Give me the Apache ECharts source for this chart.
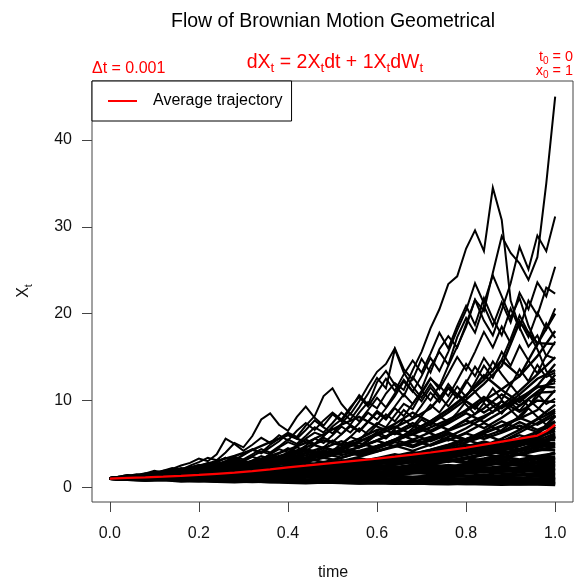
<!DOCTYPE html>
<html><head><meta charset="utf-8">
<script src="https://cdn.jsdelivr.net/npm/echarts@6/dist/echarts.min.js"></script>
<style>html,body{margin:0;padding:0;background:#fff}#c{width:580px;height:584px}</style>
</head><body><div id="c"></div>
<script>
// ---- time grids ----
const timesFine = [0,0.02,0.04,0.06,0.08,0.1,0.12,0.14,0.16,0.18,0.2,0.22,0.24,0.26,0.28,0.3,0.32,0.34,0.36,0.38,0.4,0.42,0.44,0.46,0.48,0.5,0.52,0.54,0.56,0.58,0.6,0.62,0.64,0.66,0.68,0.7,0.72,0.74,0.76,0.78,0.8,0.82,0.84,0.86,0.88,0.9,0.92,0.94,0.96,0.98,1];
const timesCoarse = [0,0.04,0.08,0.12,0.16,0.2,0.24,0.28,0.32,0.36,0.4,0.44,0.48,0.52,0.56,0.6,0.64,0.68,0.72,0.76,0.8,0.84,0.88,0.92,0.96,1];

// ---- high trajectories (fine grid) ----
const hi1 = [1,1.1,1.3,1.2,1.4,1.6,1.5,1.8,2.0,1.9,2.3,2.6,2.4,2.9,3.3,3.0,3.6,4.1,3.8,4.6,5.2,4.8,5.6,6.3,5.9,7.0,7.8,7.2,8.6,9.8,9.1,10.8,12.0,11.2,13.5,15.6,18.3,20.5,23.4,24.3,27.5,29.6,27.2,34.5,30.8,21.5,18.4,16.2,17.5,15.1,16.8];
const hi2 = [1,0.9,1.0,1.1,0.95,1.1,1.25,1.15,1.3,1.5,1.4,1.6,1.8,1.7,2.0,2.3,2.1,2.5,2.9,2.7,3.2,3.6,3.3,4.0,4.5,4.2,5.0,5.8,5.4,6.5,7.4,6.9,8.3,9.6,9.0,10.8,12.5,11.6,14.0,16.2,18.5,21.6,20.3,24.7,28.9,27.0,25.8,23.9,26.5,35.0,45.0];
const hi3 = [1,1.15,1.3,1.5,1.4,1.7,1.9,2.0,1.8,2.2,2.6,2.4,2.9,3.4,3.1,3.8,4.4,4.0,4.9,5.6,6.3,5.8,7.1,8.2,10.5,11.4,9.6,8.4,9.9,11.7,13.3,14.2,16.0,13.6,12.4,14.8,13.2,15.9,17.4,16.1,18.8,21.6,19.2,17.5,20.4,23.5,27.7,25.1,29.0,27.2,31.2];
const hi4 = [1,1.2,1.1,1.4,1.6,1.5,1.9,2.2,2.0,2.5,2.9,3.4,3.1,4.0,5.1,4.6,5.9,7.8,8.5,7.2,6.5,8.1,9.3,8.0,7.1,8.4,7.6,9.0,10.6,9.5,12.1,13.4,11.8,10.5,12.7,11.3,13.9,15.6,14.1,17.3,19.5,17.8,20.9,18.6,21.3,19.0,22.4,20.5,23.6,22.0,25.4];
const hi5 = [1,1.2,1.4,1.3,1.6,1.9,1.7,2.1,2.5,2.8,3.3,3.0,3.8,5.6,5.0,4.2,4.9,5.7,5.1,6.0,5.4,6.5,7.4,6.6,7.7,8.6,7.8,9.2,10.4,9.3,10.9,12.5,11.1,13.0,14.6,13.2,15.4,17.8,16.0,18.6,20.9,18.7,21.8,19.4,17.5,20.6,18.3,21.5,19.8,23.0,22.3];
const hi6 = [1,1.1,0.95,1.15,1.35,1.2,1.45,1.7,1.55,1.85,2.2,2.0,2.4,2.8,2.5,3.0,3.5,3.2,3.8,4.4,4.0,4.8,5.5,5.0,5.9,6.8,6.1,7.2,6.5,7.6,8.8,8.0,9.3,10.7,9.6,11.0,12.6,11.3,13.1,15.0,13.5,15.6,17.9,16.1,18.5,16.6,19.2,17.3,20.1,18.2,20.6];
const hi7 = [1,1.1,1.25,1.1,1.3,1.5,1.35,1.6,1.85,1.7,2.0,2.35,2.15,2.5,2.9,2.6,3.1,3.6,3.3,3.9,4.5,4.1,4.8,5.6,5.1,6.0,7.0,6.3,7.4,8.6,7.8,9.1,10.5,12.2,11.0,12.8,14.9,13.4,15.6,18.1,20.4,23.5,21.2,24.4,22.0,19.5,21.8,18.6,16.4,18.9,17.2];
const hi8 = [1,0.9,1.05,1.2,1.1,1.3,1.5,1.4,1.65,1.9,1.75,2.05,2.4,2.2,2.6,3.0,2.75,3.2,3.7,3.4,4.0,4.6,4.2,4.9,5.7,5.2,6.1,7.0,6.4,7.5,8.6,7.8,9.1,8.2,9.6,11.1,10.0,11.7,10.5,12.3,14.2,12.8,14.9,13.4,15.6,14.0,16.3,14.6,13.1,15.2,14.8];
const hi9 = [1,1.15,1.0,1.2,1.4,1.25,1.5,1.35,1.6,1.85,1.65,1.95,2.3,2.1,2.5,2.25,2.7,3.2,2.9,3.4,4.0,3.6,4.3,3.9,4.6,5.4,4.9,5.8,6.8,6.1,7.2,8.4,7.6,8.9,8.0,9.4,10.9,9.8,11.4,10.3,12.0,13.9,12.5,14.5,13.0,11.7,13.6,12.2,14.1,12.7,13.2];
const hi10 = [1,1.1,1.25,1.4,1.3,1.55,1.8,1.65,1.95,2.3,2.1,2.5,2.9,3.4,3.1,3.7,4.3,3.9,4.6,5.3,6.2,5.6,6.6,7.7,6.9,6.2,7.3,8.5,7.6,8.9,10.3,9.2,10.8,12.4,11.1,9.9,11.5,10.2,11.9,10.6,12.3,11.0,9.8,11.4,10.1,11.8,10.5,9.3,10.8,9.6,10.2];
const hi11 = [1,0.95,1.1,1.0,1.15,1.3,1.2,1.4,1.3,1.5,1.75,1.6,1.85,2.15,1.95,2.3,2.1,2.45,2.85,2.6,3.0,3.5,3.2,3.7,4.3,3.9,4.5,5.2,4.7,5.5,6.4,5.8,6.7,7.8,7.0,8.2,9.5,8.6,10.0,11.6,10.4,12.1,14.0,12.6,14.7,17.1,19.8,17.8,15.9,13.4,12.1];
const hi12 = [1,1.1,1.0,1.2,1.1,1.3,1.5,1.4,1.6,1.45,1.7,1.95,1.8,2.1,1.9,2.2,2.55,2.35,2.7,3.1,2.85,3.3,3.0,3.5,4.0,3.7,4.3,5.0,4.6,5.3,6.1,5.6,6.5,5.9,6.8,7.8,7.1,8.2,7.5,8.6,9.9,9.0,10.3,9.4,8.5,9.7,8.8,10.1,9.2,8.4,9.0];
const hi13 = [1,1.2,1.4,1.25,1.5,1.75,1.6,1.9,2.2,2.0,2.4,2.8,2.5,3.0,3.5,3.2,3.8,4.4,4.0,4.7,5.5,5.0,5.9,6.9,6.3,7.4,8.6,7.8,9.2,10.8,12.6,11.4,15.9,13.2,11.6,10.3,11.9,10.5,9.3,10.7,9.5,8.4,9.7,8.6,10.0,8.9,7.9,9.1,8.1,7.2,8.3];

// ---- middle trajectories (coarse grid) ----
const mid1 = [1,1.2,1.4,1.65,1.45,1.7,2.0,2.35,2.75,2.4,2.8,3.3,3.9,3.4,4.0,4.7,5.5,4.8,5.6,6.6,7.7,6.8,8.0,9.4,10.9,11.0];
const mid2 = [1,1.15,1.35,1.6,1.9,2.2,1.95,2.3,2.7,3.2,3.75,4.4,3.85,4.5,5.3,6.2,7.3,8.6,7.5,6.6,7.8,9.1,10.7,9.4,11.0,12.5];
const mid3 = [1,1.2,1.45,1.7,2.0,2.4,2.1,2.5,3.0,3.6,4.3,5.1,6.1,7.2,8.1,7.0,6.1,7.1,6.2,5.4,6.3,7.4,6.4,7.5,6.6,7.5];
const mid4 = [1,1.1,1.3,1.5,1.35,1.6,1.9,2.2,2.6,3.0,2.65,3.1,3.65,4.3,3.8,4.45,5.2,4.6,5.4,6.3,5.5,6.5,7.6,6.7,7.9,9.5];
const mid5 = [1,1.15,1.35,1.55,1.8,2.1,2.45,2.85,2.5,2.9,3.4,3.95,4.6,4.0,4.65,5.4,6.3,5.5,4.8,5.6,4.9,4.3,5.0,4.4,5.1,5.0];
const mid6 = [1,1.1,1.3,1.5,1.75,1.55,1.8,2.1,2.45,2.15,2.5,2.9,3.4,3.0,3.5,4.1,4.8,4.2,4.9,5.8,6.8,8.0,9.4,11.1,13.0,15.0];
const mid7 = [1,1.15,1.05,1.25,1.45,1.7,2.0,1.75,2.05,2.4,2.8,3.3,2.9,3.4,4.0,4.7,5.5,6.5,7.6,9.0,10.6,12.4,14.6,12.8,15.1,18.0];
const mid8 = [1,1.2,1.4,1.25,1.45,1.7,2.0,2.35,2.75,3.2,2.8,3.3,3.9,4.6,4.0,4.7,5.5,6.5,7.6,8.9,10.5,12.9,11.2,9.8,11.6,11.5];
const mid9 = [1,1.1,1.0,1.15,1.35,1.2,1.4,1.65,1.45,1.7,2.0,2.35,2.05,2.4,2.8,3.3,2.9,3.4,4.0,4.7,5.5,4.8,5.6,6.6,7.8,8.8];
const mid10 = [1,1.15,1.35,1.6,1.85,2.2,2.55,3.0,2.6,3.05,3.6,4.2,3.7,4.3,5.1,4.5,5.3,6.2,7.3,8.6,10.1,11.9,14.0,19.0,16.6,16.5];
const mid11 = [1,1.12,1.28,1.14,1.3,1.5,1.72,1.52,1.75,2.0,2.3,2.02,2.32,2.66,3.06,2.7,3.1,3.56,4.1,3.6,4.14,4.76,5.48,4.82,5.54,6.8];
const mid12 = [1,1.2,1.45,1.75,2.1,2.5,3.0,3.6,4.3,5.2,6.0,5.2,4.5,5.3,4.6,5.4,6.3,7.4,6.5,7.6,8.9,10.4,9.1,10.7,12.5,13.5];
const mid13 = [1,1.12,1.26,1.42,1.6,1.8,2.03,2.29,2.58,2.9,3.27,3.69,4.16,3.7,4.2,4.75,5.4,6.1,6.9,7.8,8.8,10.0,11.3,12.8,16.5,20.0];
const mid14 = [1,1.15,1.3,1.5,1.72,1.98,2.28,2.62,3.0,3.45,3.0,3.45,3.97,4.56,5.25,6.0,6.9,7.9,9.1,11.5,9.9,8.6,9.9,8.7,10.0,9.8];
const mid15 = [1,1.1,1.22,1.35,1.2,1.34,1.5,1.68,1.5,1.68,1.88,2.1,2.36,2.1,2.36,2.64,2.96,3.3,2.96,3.32,3.72,4.16,4.66,4.16,4.66,5.8];
const mid16 = [1,1.1,1.22,1.36,1.52,1.7,1.9,2.12,2.36,2.64,2.95,3.3,3.7,4.1,3.7,4.15,4.65,5.2,5.8,6.5,7.3,8.2,9.2,10.3,11.5,12.0];
const mid17 = [1,1.14,1.3,1.48,1.68,1.9,2.16,2.46,2.8,2.5,2.84,3.22,3.66,4.16,3.7,4.2,4.76,5.4,4.82,5.48,6.2,5.56,6.3,7.1,6.36,7.2];
const mid18 = [1,1.08,1.0,1.1,1.2,1.32,1.2,1.34,1.5,1.68,1.88,1.7,1.92,2.16,2.44,2.76,3.12,2.8,3.18,3.6,4.08,4.62,5.24,6.3,7.4,8.6];
const mid19 = [1,1.16,1.34,1.2,1.4,1.62,1.88,2.18,2.5,2.9,3.36,3.9,3.4,3.96,4.6,5.34,4.7,5.46,6.34,7.36,8.54,7.5,8.7,10.1,11.7,14.2];
const mid20 = [1,1.1,1.0,1.12,1.26,1.42,1.28,1.44,1.62,1.82,2.06,2.32,2.08,2.36,2.66,3.0,3.4,3.84,4.34,4.9,5.56,6.3,7.1,8.0,7.2,8.3];
const mid21 = [1,1.18,1.4,1.65,1.95,2.3,2.72,3.2,2.8,3.3,3.9,4.6,5.4,4.8,5.6,6.6,7.0,6.1,5.3,6.1,5.3,6.1,5.3,6.0,5.4,6.2];
const mid22 = [1,1.12,1.25,1.4,1.26,1.42,1.6,1.8,1.6,1.8,2.04,2.3,2.6,2.34,2.64,2.98,3.36,3.8,4.3,4.86,5.5,6.2,7.0,7.9,8.9,11.2];
const mid23 = [1,1.1,1.22,1.1,1.23,1.38,1.55,1.4,1.57,1.76,1.98,2.22,2.5,2.24,2.52,2.84,3.2,3.6,4.06,4.58,5.16,5.82,6.56,8.2,10.4,13.0];

// ---- low trajectories (coarse grid) ----
const lo1 = [1,0.9,0.8,0.85,0.7,0.75,0.65,0.6,0.7,0.6,0.55,0.5,0.58,0.52,0.45,0.5,0.42,0.48,0.4,0.36,0.42,0.37,0.33,0.38,0.34,0.3];
const lo2 = [1,1.1,0.95,0.85,0.9,0.8,0.7,0.78,0.68,0.62,0.7,0.64,0.56,0.6,0.52,0.58,0.5,0.45,0.52,0.47,0.55,0.49,0.44,0.5,0.46,0.5];
const lo3 = [1,0.9,1.0,1.1,0.95,0.85,0.9,0.8,0.88,0.78,0.72,0.8,0.7,0.76,0.66,0.72,0.62,0.68,0.6,0.66,0.58,0.64,0.7,0.62,0.68,0.7];
const lo4 = [1,1.1,1.2,1.05,1.15,1.0,0.9,1.0,1.1,0.95,1.05,0.9,0.82,0.92,0.84,0.78,0.86,0.8,0.72,0.8,0.9,0.82,0.76,0.84,0.94,0.9];
const lo5 = [1,1.15,1.05,1.2,1.35,1.2,1.1,1.25,1.1,1.0,1.12,1.25,1.1,0.98,1.1,1.0,0.9,1.02,1.15,1.04,0.94,1.05,1.18,1.06,0.98,1.1];
const lo6 = [1,0.9,1.0,0.9,1.0,1.12,1.0,1.1,1.24,1.1,1.2,1.35,1.2,1.08,1.2,1.34,1.2,1.1,1.24,1.38,1.24,1.12,1.25,1.4,1.26,1.3];
const lo7 = [1,1.1,1.25,1.4,1.25,1.4,1.55,1.4,1.25,1.4,1.3,1.45,1.6,1.45,1.3,1.45,1.6,1.78,1.6,1.45,1.6,1.75,1.58,1.44,1.6,1.6];
const lo8 = [1,1.1,1.0,1.1,1.22,1.1,1.25,1.38,1.25,1.4,1.55,1.4,1.55,1.72,1.55,1.7,1.9,1.7,1.55,1.72,1.9,2.1,1.9,1.75,1.95,1.9];
const lo9 = [1,1.1,1.2,1.35,1.5,1.35,1.5,1.65,1.85,1.65,1.5,1.68,1.85,2.05,1.85,1.65,1.85,2.05,2.3,2.05,1.85,2.05,2.3,2.05,2.25,2.2];
const lo10 = [1,0.9,1.0,1.1,1.0,1.12,1.25,1.12,1.26,1.4,1.56,1.4,1.56,1.74,1.94,1.74,1.94,2.16,1.94,2.16,2.4,2.16,2.4,2.68,2.42,2.5];
const lo11 = [1,1.15,1.3,1.18,1.34,1.5,1.7,1.52,1.72,1.94,1.74,1.96,2.2,1.98,1.78,2.0,2.24,2.0,2.26,2.52,2.26,2.54,2.84,2.56,2.86,2.8];
const lo12 = [1,1.1,0.98,1.1,1.24,1.1,1.25,1.4,1.58,1.42,1.6,1.8,2.02,1.82,2.04,2.3,2.06,2.32,2.6,2.34,2.64,2.96,2.66,2.98,3.3,3.1];
const lo13 = [1,1.1,1.25,1.4,1.58,1.42,1.6,1.8,2.02,2.28,2.04,1.84,2.06,2.32,2.6,2.34,2.64,2.96,2.66,3.0,3.36,3.02,3.4,3.8,3.42,3.5];
const lo14 = [1,0.92,1.04,1.16,1.04,1.18,1.32,1.48,1.34,1.5,1.7,1.9,1.72,1.94,2.18,2.44,2.2,2.46,2.76,3.1,2.8,3.14,3.52,3.18,3.58,3.9];
const lo15 = [1,1.12,1.26,1.14,1.28,1.44,1.62,1.82,1.64,1.84,2.06,2.32,2.6,2.34,2.64,2.96,2.66,3.0,3.36,3.02,3.4,3.82,3.44,3.86,4.34,4.3];
const lo16 = [1,1.1,1.0,1.12,1.26,1.42,1.28,1.44,1.62,1.82,2.04,1.84,2.06,2.32,2.6,2.92,2.62,2.94,3.3,2.96,3.32,3.74,4.2,3.78,4.24,4.7];
const lo17 = [1,1.14,1.3,1.48,1.34,1.52,1.72,1.96,1.76,2.0,2.26,2.04,2.3,2.6,2.94,2.64,2.98,3.36,3.02,3.4,3.84,4.32,3.88,4.38,4.94,5.1];
const lo18 = [1,1.1,1.22,1.1,1.24,1.38,1.56,1.4,1.58,1.78,2.0,2.26,2.04,2.3,2.58,2.9,3.26,2.94,3.3,3.72,4.18,3.76,4.24,4.76,5.36,5.5];
const lo19 = [1,1.16,1.04,1.18,1.34,1.52,1.72,1.54,1.74,1.98,2.24,2.52,2.26,2.56,2.9,3.26,2.94,3.32,3.74,4.22,3.8,4.28,4.82,5.44,5.0,6.0];
const lo20 = [1,1.12,1.26,1.42,1.6,1.44,1.62,1.84,2.08,1.86,2.1,2.38,2.68,2.4,2.72,3.08,3.48,3.12,3.52,3.98,4.48,4.02,4.54,5.12,5.78,6.5];
const lo21 = [1,1.1,1.24,1.12,1.26,1.42,1.6,1.8,2.04,2.3,2.06,2.32,2.62,2.96,2.66,3.0,3.38,3.82,3.44,3.88,4.38,4.94,4.44,5.02,5.66,7.0];
const lo22 = [1,1.14,1.3,1.16,1.32,1.5,1.7,1.94,1.74,1.98,2.24,2.54,2.88,2.6,2.94,3.32,3.76,3.38,3.82,4.32,4.88,4.4,4.96,5.6,6.34,7.6];
const lo23 = [1,1.12,1.26,1.42,1.28,1.44,1.62,1.84,2.08,2.36,2.12,2.4,2.72,3.08,2.78,3.14,3.56,4.02,3.62,4.1,4.64,5.24,4.72,5.34,6.04,8.2];
const lo24 = [1,0.92,0.84,0.9,0.8,0.72,0.78,0.7,0.64,0.7,0.62,0.56,0.6,0.54,0.5,0.55,0.48,0.44,0.5,0.45,0.4,0.44,0.4,0.36,0.42,0.4];
const lo25 = [1,0.9,0.82,0.9,0.98,0.88,0.8,0.88,0.96,0.86,0.78,0.86,0.94,0.84,0.92,1.02,0.92,0.84,0.92,1.02,0.92,0.84,0.94,1.04,0.94,1.0];
const lo26 = [1,1.08,1.18,1.08,1.0,1.1,1.2,1.32,1.2,1.32,1.46,1.32,1.2,1.32,1.46,1.62,1.46,1.62,1.8,1.62,1.8,2.0,1.8,1.98,2.2,2.0];
const lo27 = [1,1.1,1.22,1.34,1.22,1.36,1.5,1.36,1.5,1.66,1.84,1.66,1.84,2.04,1.84,2.04,2.26,2.04,2.26,2.5,2.26,2.5,2.78,2.5,2.78,3.0];
const lo28 = [1,1.12,1.0,1.12,1.26,1.4,1.26,1.42,1.58,1.42,1.6,1.78,2.0,1.8,2.02,2.26,2.02,2.28,2.56,2.28,2.56,2.88,3.22,2.9,3.26,4.0];
const lo29 = [1,1.06,0.98,1.06,1.16,1.06,1.16,1.28,1.16,1.28,1.4,1.54,1.4,1.54,1.7,1.54,1.7,1.88,2.06,1.88,2.06,2.28,2.06,2.28,2.5,2.6];
const lo30 = [1,1.14,1.04,1.18,1.34,1.2,1.36,1.54,1.38,1.56,1.76,1.98,1.78,2.0,2.26,2.54,2.28,2.56,2.88,3.24,2.92,3.28,3.7,4.16,4.6,4.9];
const lo31 = [1,0.94,0.86,0.92,0.84,0.78,0.84,0.76,0.7,0.76,0.7,0.64,0.7,0.64,0.58,0.63,0.57,0.62,0.56,0.51,0.56,0.62,0.56,0.61,0.55,0.6];
const lo32 = [1,1.1,1.0,1.1,1.0,1.1,1.22,1.36,1.22,1.36,1.52,1.7,1.52,1.7,1.9,1.7,1.9,2.12,2.36,2.12,2.36,2.64,2.94,2.64,2.96,3.4];
const lo33 = [1,0.92,1.0,1.08,0.98,1.06,0.96,1.04,1.14,1.02,1.12,1.22,1.1,1.2,1.08,1.18,1.3,1.18,1.3,1.42,1.3,1.42,1.3,1.42,1.56,1.5];
const lo34 = [1,1.16,1.34,1.56,1.8,2.08,2.4,2.1,2.42,2.12,2.44,2.82,2.48,2.86,3.3,2.9,3.34,3.86,3.4,3.92,4.52,3.98,4.6,5.3,4.66,5.8];

// ---- average trajectory ----
const avgTimes = [0,0.04,0.08,0.12,0.16,0.2,0.24,0.28,0.32,0.36,0.4,0.44,0.48,0.52,0.56,0.6,0.64,0.68,0.72,0.76,0.8,0.84,0.88,0.92,0.96,0.98,1];
const avgValues = [1.0,1.07,1.14,1.22,1.31,1.42,1.55,1.68,1.85,2.05,2.28,2.48,2.7,2.9,3.1,3.3,3.52,3.75,4.0,4.28,4.55,4.9,5.25,5.6,5.95,6.45,7.2];

// ---- tick labels ----
const xTicks = [0,0.2,0.4,0.6,0.8,1.0];
const yTicks = [0,10,20,30,40];

const FONT = '"Liberation Sans", Arial, Helvetica, sans-serif';
const fineSet = [hi1,hi2,hi3,hi4,hi5,hi6,hi7,hi8,hi9,hi10,hi11,hi12,hi13];
const midSet = [mid1,mid2,mid3,mid4,mid5,mid6,mid7,mid8,mid9,mid10,mid11,mid12,mid13,mid14,mid15,mid16,mid17,mid18,mid19,mid20,mid21,mid22,mid23];
const lowSet = [lo1,lo2,lo3,lo4,lo5,lo6,lo7,lo8,lo9,lo10,lo11,lo12,lo13,lo14,lo15,lo16,lo17,lo18,lo19,lo20,lo21,lo22,lo23,lo24,lo25,lo26,lo27,lo28,lo29,lo30,lo31,lo32,lo33,lo34];

function pairs(ts, vs){ const out=[]; for(let i=0;i<vs.length && i<ts.length;i++) out.push([ts[i], vs[i]]); return out; }
function blackLine(ts, vs, w){ return {type:'line', data:pairs(ts, vs), showSymbol:false, silent:true, animation:false, z:2,
  lineStyle:{color:'#000', width:w, join:'miter'}}; }

const series = [];
lowSet.forEach(v => series.push(blackLine(timesCoarse, v, 3)));
midSet.forEach(v => series.push(blackLine(timesCoarse, v, 2.4)));
fineSet.forEach(v => series.push(blackLine(timesFine, v, 2)));
series.push({name:'Average trajectory', type:'line', data:pairs(avgTimes, avgValues), showSymbol:false, silent:true, animation:false, z:5,
  lineStyle:{color:'#ff0000', width:2.2}, itemStyle:{color:'#ff0000'}});

const chart = echarts.init(document.getElementById('c'), null, {renderer:'canvas'});
chart.setOption({
  animation:false,
  backgroundColor:'#fff',
  grid:{left:92, right:7, top:81, bottom:82, show:true, borderColor:'#444', borderWidth:1, backgroundColor:'transparent'},
  xAxis:{type:'value', min:-0.04, max:1.04,
    axisLine:{show:false, onZero:false}, splitLine:{show:false},
    axisTick:{show:true, inside:false, length:10, customValues:xTicks, lineStyle:{color:'#444', width:1}},
    axisLabel:{show:true, customValues:xTicks, margin:24, fontSize:16, color:'#111', fontFamily:FONT, formatter:v=>Number(v).toFixed(1)}},
  yAxis:{type:'value', min:-1.7, max:46.8,
    axisLine:{show:false, onZero:false}, splitLine:{show:false},
    axisTick:{show:true, inside:false, length:10, customValues:yTicks, lineStyle:{color:'#444', width:1}},
    axisLabel:{show:true, customValues:yTicks, margin:20, fontSize:16, color:'#111', fontFamily:FONT, formatter:v=>String(v)}},
  legend:{show:true, left:92, top:81, data:[{name:'Average trajectory', icon:'rect'}], itemWidth:29, itemHeight:2,
    backgroundColor:'#fff', borderColor:'#000', borderWidth:1, borderRadius:0, padding:[12,9,12,16], selectedMode:false,
    textStyle:{fontSize:16, color:'#000', fontFamily:FONT, padding:[0,0,0,11]}},
  graphic:[
    {type:'text', x:333, y:22, silent:true, style:{text:'Flow of Brownian Motion Geometrical', fill:'#000', font:'19.5px '+FONT, align:'center', verticalAlign:'middle'}},
    {type:'text', x:335, y:63, silent:true, style:{text:'{m|dX}{s|t}{m| = 2X}{s|t}{m|dt + 1X}{s|t}{m|dW}{s|t}', align:'center', verticalAlign:'middle',
      rich:{m:{fontSize:19.5, fontFamily:FONT, fill:'#ff0000', lineHeight:24, verticalAlign:'middle'},
            s:{fontSize:13.5, fontFamily:FONT, fill:'#ff0000', lineHeight:13.5, verticalAlign:'bottom'}}}},
    {type:'text', x:92, y:68.5, silent:true, style:{text:'Δt = 0.001', fill:'#ff0000', font:'16px '+FONT, align:'left', verticalAlign:'middle'}},
    {type:'text', x:573, y:57.5, silent:true, style:{text:'{m|t}{s|0}{m| = 0}', align:'right', verticalAlign:'middle',
      rich:{m:{fontSize:14.4, fontFamily:FONT, fill:'#ff0000', lineHeight:18, verticalAlign:'middle'},
            s:{fontSize:10, fontFamily:FONT, fill:'#ff0000', lineHeight:10, verticalAlign:'bottom'}}}},
    {type:'text', x:573, y:71, silent:true, style:{text:'{m|x}{s|0}{m| = 1}', align:'right', verticalAlign:'middle',
      rich:{m:{fontSize:14.4, fontFamily:FONT, fill:'#ff0000', lineHeight:18, verticalAlign:'middle'},
            s:{fontSize:10, fontFamily:FONT, fill:'#ff0000', lineHeight:10, verticalAlign:'bottom'}}}},
    {type:'text', x:333, y:573, silent:true, style:{text:'time', fill:'#111', font:'16px '+FONT, align:'center', verticalAlign:'middle'}},
    {type:'text', x:24, y:291, rotation:Math.PI/2, silent:true, style:{text:'{m|X}{s|t}', align:'center', verticalAlign:'middle',
      rich:{m:{fontSize:16, fontFamily:FONT, fill:'#111', lineHeight:20, verticalAlign:'middle'},
            s:{fontSize:11, fontFamily:FONT, fill:'#111', lineHeight:11, verticalAlign:'bottom'}}}}
  ],
  series: series
});
</script></body></html>
